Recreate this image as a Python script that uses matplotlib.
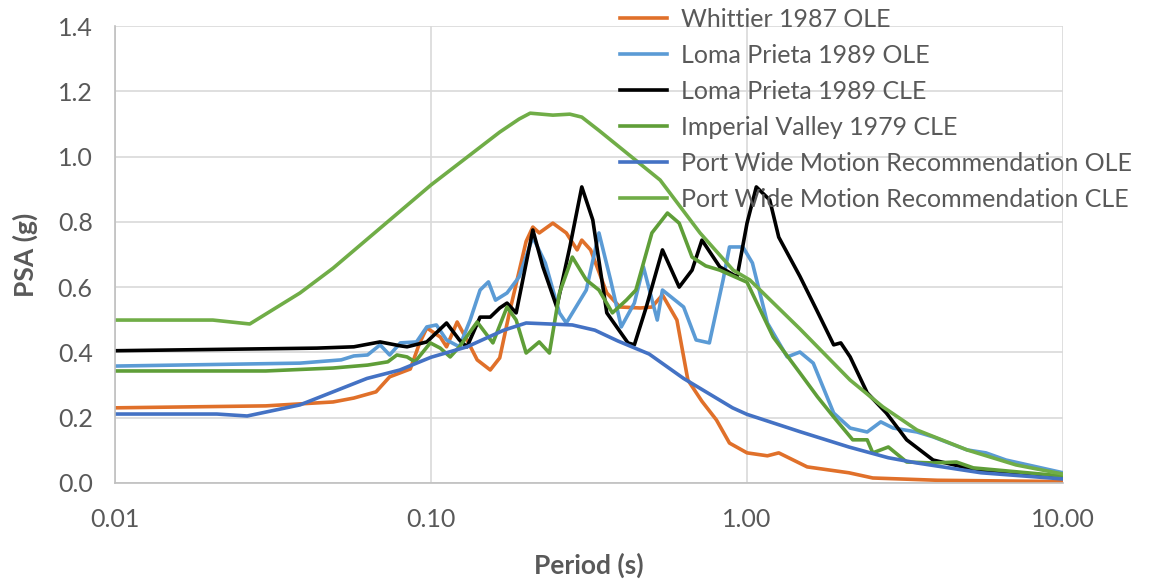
import matplotlib.pyplot as plt
from matplotlib.ticker import FixedLocator, NullLocator

plt.rcParams['font.family'] = ['Lato', 'DejaVu Sans']

# Whittier 1987 OLE
t_whit = [0.01, 0.03, 0.049, 0.057, 0.067, 0.074, 0.086, 0.092, 0.097, 0.107, 0.112, 0.121,
          0.13, 0.14, 0.154, 0.165, 0.177, 0.2, 0.21, 0.22, 0.243, 0.268, 0.29, 0.30, 0.32, 0.36,
          0.396, 0.46, 0.50, 0.54, 0.60, 0.65, 0.72, 0.80, 0.88, 1.0, 1.16, 1.26, 1.55, 2.1,
          2.5, 4.0, 10.0]
psa_whit = [0.23, 0.236, 0.248, 0.26, 0.279, 0.325, 0.349, 0.428, 0.475, 0.447, 0.417, 0.493,
            0.438, 0.377, 0.346, 0.383, 0.521, 0.74, 0.784, 0.766, 0.796, 0.766, 0.714, 0.744, 0.714,
            0.582, 0.539, 0.536, 0.539, 0.576, 0.499, 0.315, 0.25, 0.193, 0.122, 0.092, 0.083,
            0.092, 0.049, 0.031, 0.015, 0.008, 0.004]

# Loma Prieta 1989 OLE
t_lp_ole = [0.01, 0.0385, 0.052, 0.057, 0.063, 0.069, 0.074, 0.08, 0.09, 0.097, 0.104, 0.112,
            0.123, 0.133, 0.143, 0.152, 0.16, 0.174, 0.19, 0.21, 0.23, 0.255, 0.268, 0.31,
            0.34, 0.37, 0.40, 0.44, 0.47, 0.52, 0.54, 0.63, 0.69, 0.76, 0.84, 0.88, 0.97,
            1.04, 1.16, 1.34, 1.47, 1.62, 1.88, 2.12, 2.4, 2.65, 2.9, 3.45, 3.88, 4.97, 5.7,
            6.6, 10.0]
psa_lp_ole = [0.358, 0.367, 0.377, 0.389, 0.392, 0.423, 0.392, 0.429, 0.432, 0.478, 0.484,
              0.438, 0.417, 0.499, 0.591, 0.616, 0.56, 0.582, 0.631, 0.753, 0.674, 0.521, 0.49,
              0.591, 0.766, 0.622, 0.478, 0.551, 0.662, 0.499, 0.591, 0.539, 0.438, 0.429,
              0.622, 0.723, 0.723, 0.674, 0.49, 0.386, 0.401, 0.367, 0.214, 0.168, 0.156,
              0.187, 0.168, 0.156, 0.141, 0.101, 0.092, 0.070, 0.031]

# Loma Prieta 1989 CLE
t_lp_cle = [0.01, 0.0435, 0.057, 0.069, 0.08, 0.084, 0.097, 0.112, 0.123, 0.13, 0.143, 0.154,
            0.165, 0.174, 0.186, 0.21, 0.226, 0.25, 0.275, 0.30, 0.325, 0.36, 0.42, 0.44, 0.48,
            0.54, 0.61, 0.67, 0.72, 0.82, 0.93, 1.0, 1.07, 1.18, 1.26, 1.47, 1.66, 1.88, 1.98,
            2.12, 2.4, 2.76, 3.2, 3.88, 4.97, 6.3, 10.0]
psa_lp_cle = [0.405, 0.413, 0.417, 0.432, 0.42, 0.417, 0.432, 0.49, 0.438, 0.417, 0.508, 0.508,
              0.536, 0.551, 0.521, 0.775, 0.662, 0.539, 0.723, 0.907, 0.806, 0.521, 0.429,
              0.423, 0.539, 0.714, 0.60, 0.652, 0.744, 0.662, 0.631, 0.796, 0.907, 0.867,
              0.753, 0.633, 0.53, 0.423, 0.429, 0.386, 0.276, 0.214, 0.132, 0.07, 0.046, 0.031,
              0.015]

# Imperial Valley 1979 CLE
t_iv = [0.01, 0.03, 0.049, 0.063, 0.073, 0.078, 0.084, 0.089, 0.0995, 0.107, 0.115, 0.123,
        0.14, 0.157, 0.174, 0.186, 0.20, 0.22, 0.237, 0.255, 0.28, 0.31, 0.34, 0.375, 0.415,
        0.445, 0.50, 0.56, 0.61, 0.67, 0.74, 0.82, 1.0, 1.21, 1.47, 1.67, 1.88, 2.16, 2.4,
        2.5, 2.8, 3.2, 3.88, 4.6, 5.2, 10.0]
psa_iv = [0.343, 0.343, 0.352, 0.361, 0.371, 0.392, 0.386, 0.371, 0.429, 0.413, 0.386, 0.417,
          0.493, 0.429, 0.539, 0.499, 0.398, 0.432, 0.398, 0.582, 0.692, 0.622, 0.591, 0.521,
          0.56, 0.591, 0.766, 0.827, 0.796, 0.692, 0.665, 0.652, 0.615, 0.447, 0.337, 0.264,
          0.202, 0.132, 0.132, 0.092, 0.110, 0.064, 0.061, 0.064, 0.046, 0.021]

# Port Wide Motion Recommendation OLE
t_pw_ole = [0.01, 0.021, 0.0262, 0.0385, 0.0627, 0.0797, 0.1, 0.13, 0.17, 0.20, 0.28, 0.33,
            0.39, 0.49, 0.63, 0.90, 1.0, 1.47, 2.1, 2.8, 3.45, 5.5, 10.0]
psa_pw_ole = [0.211, 0.211, 0.205, 0.239, 0.32, 0.346, 0.385, 0.417, 0.468, 0.49, 0.484,
              0.468, 0.435, 0.395, 0.32, 0.23, 0.21, 0.157, 0.11, 0.077, 0.061, 0.031, 0.012]

# Port Wide Motion Recommendation CLE
t_pw_cle = [0.01, 0.0204, 0.0267, 0.0385, 0.049, 0.1, 0.165, 0.19, 0.206, 0.243, 0.275, 0.30,
            0.34, 0.531, 0.71, 0.904, 1.02, 1.47, 2.12, 2.69, 3.45, 4.97, 7.1, 10.0]
psa_pw_cle = [0.499, 0.499, 0.487, 0.582, 0.658, 0.913, 1.075, 1.115, 1.133, 1.127, 1.13,
              1.121, 1.08, 0.928, 0.766, 0.652, 0.622, 0.472, 0.315, 0.233, 0.162, 0.101,
              0.055, 0.027]

series = [
    (t_whit, psa_whit, 'Whittier 1987 OLE', '#E0702A'),
    (t_lp_ole, psa_lp_ole, 'Loma Prieta 1989 OLE', '#5B9BD5'),
    (t_lp_cle, psa_lp_cle, 'Loma Prieta 1989 CLE', '#000000'),
    (t_iv, psa_iv, 'Imperial Valley 1979 CLE', '#5F9E38'),
    (t_pw_ole, psa_pw_ole, 'Port Wide Motion Recommendation OLE', '#4472C4'),
    (t_pw_cle, psa_pw_cle, 'Port Wide Motion Recommendation CLE', '#70AD47'),
]

gray = '#595959'
fig = plt.figure(figsize=(11.53, 5.79), dpi=100)
ax = fig.add_axes([0.0997, 0.166, 0.8223, 0.789])

for t, p, lab, c in series:
    ax.plot(t, p, color=c, lw=2.6, label=lab, solid_joinstyle='round')

ax.set_xscale('log')
ax.set_xlim(0.01, 10)
ax.set_ylim(0, 1.4)
ax.xaxis.set_major_locator(FixedLocator([0.01, 0.1, 1, 10]))
ax.xaxis.set_minor_locator(NullLocator())
ax.set_xticklabels(['0.01', '0.10', '1.00', '10.00'])
ax.set_yticks([0, 0.2, 0.4, 0.6, 0.8, 1.0, 1.2, 1.4])
ax.set_yticklabels(['0.0', '0.2', '0.4', '0.6', '0.8', '1.0', '1.2', '1.4'])
ax.tick_params(axis='x', length=0, labelsize=18, labelcolor=gray, pad=18)
ax.tick_params(axis='y', length=0, labelsize=18, labelcolor=gray, pad=16)
ax.grid(True, color='#D9D9D9', lw=1.2)
ax.set_axisbelow(True)
for s in ['top', 'right']:
    ax.spines[s].set_visible(False)
for s in ['left', 'bottom']:
    ax.spines[s].set_color('#BFBFBF')
    ax.spines[s].set_linewidth(1.2)

ax.set_xlabel('Period (s)', fontsize=19, fontweight='bold', color=gray, labelpad=16)
ax.set_ylabel('PSA (g)', fontsize=19, fontweight='bold', color=gray, labelpad=14)

leg = fig.legend(loc='upper left', bbox_to_anchor=(0.518, 1.025), frameon=False,
                 fontsize=18, labelcolor=gray, handlelength=1.9, handletextpad=0.55,
                 labelspacing=0.52)

fig.savefig('out.png', dpi=100)
